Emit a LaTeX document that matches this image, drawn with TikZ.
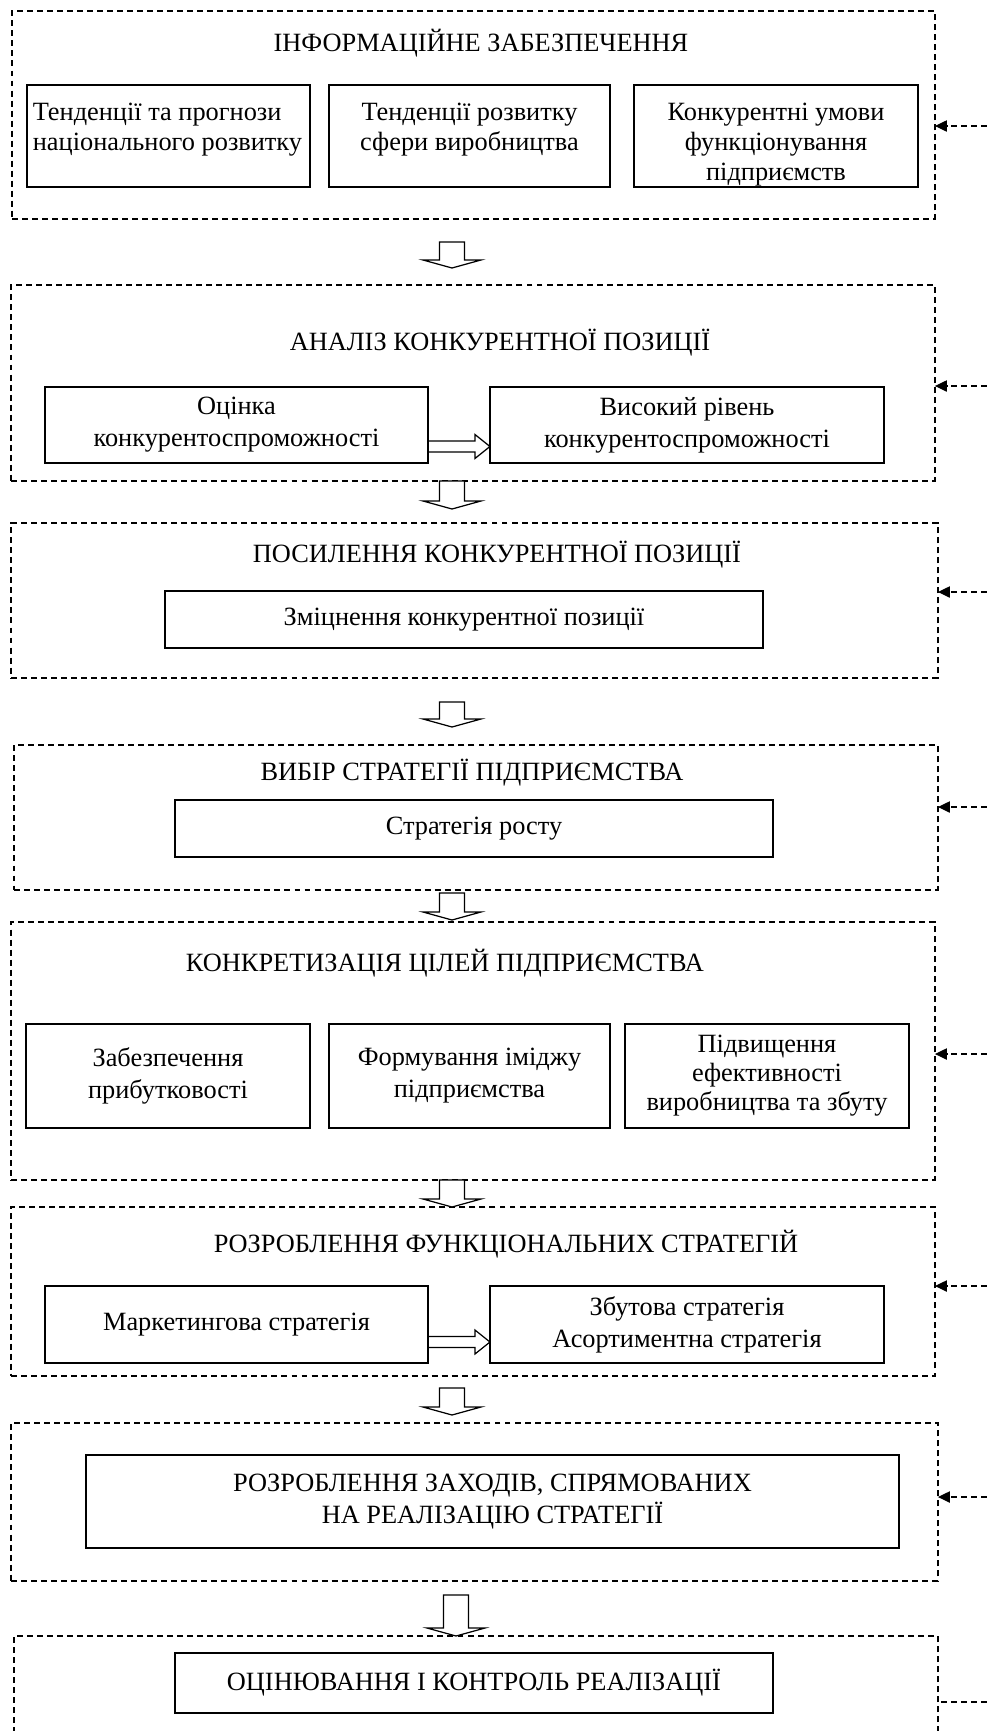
\documentclass[tikz,border=0pt]{standalone}
\usepackage{fontspec}
\setmainfont{Liberation Serif}
\usetikzlibrary{arrows.meta, calc}

\begin{document}
\begin{tikzpicture}[
  x=0.02cm, y=-0.02cm,
  stagebox/.style={draw, line width=0.7pt, dash pattern=on 3.4pt off 2.3pt,
                   inner sep=0pt, outer sep=0pt},
  title/.style={inner sep=0pt, font=\fontsize{15}{18.2}\selectfont},
  item/.style={draw, line width=0.8pt, inner sep=2pt, outer sep=0pt, align=center,
               font=\fontsize{15}{18.2}\selectfont},
  itemtext/.style={inner sep=0pt, anchor=north, align=center,
                   font=\fontsize{15}{17.1}\selectfont},
  fback/.style={line width=0.7pt, dash pattern=on 3.4pt off 2.3pt,
                -{Triangle[length=6.8pt, width=6.4pt]}},
  fbline/.style={line width=0.7pt, dash pattern=on 3.4pt off 2.3pt},
  hollow/.style={draw, line width=0.7pt, line join=miter},
  pics/downarrow/.style={code={
    \path[hollow, fill=white] (-12.5,0) -- (-12.5,#1-8) -- (-29,#1-8) -- (0,#1)
      -- (29,#1-8) -- (12.5,#1-8) -- (12.5,0) -- cycle;}},
  pics/rightarrow/.style={code={
    \path[hollow] (0,-5.5) -- (#1-15,-5.5) -- (#1-15,-12) -- (#1,0)
      -- (#1-15,12) -- (#1-15,5.5) -- (0,5.5);}}
]
  \useasboundingbox (0,0) rectangle (987,1731);
  \clip (0,0) rectangle (987,1731);

  %% Stages (dashed frames)
  \node[stagebox, minimum width=18.46cm, minimum height=4.16cm] (info)    at (473.5,115) {};
  \node[stagebox, minimum width=18.48cm, minimum height=3.92cm] (analiz)  at (473,383)   {};
  \node[stagebox, minimum width=18.54cm, minimum height=3.10cm] (posyl)   at (474.5,600.5) {};
  \node[stagebox, minimum width=18.48cm, minimum height=2.90cm] (vybir)   at (476,817.5) {};
  \node[stagebox, minimum width=18.48cm, minimum height=5.16cm] (tsili)   at (473,1051)  {};
  \node[stagebox, minimum width=18.48cm, minimum height=3.38cm] (funk)    at (473,1291.5) {};
  \node[stagebox, minimum width=18.54cm, minimum height=3.16cm] (zakhody) at (474.5,1502) {};
  \node[stagebox, minimum width=18.48cm, minimum height=2.48cm] (kontrol) at (476,1698)  {};

  %% Stage titles
  \node[title] (info-t)   at (481,43)   {ІНФОРМАЦІЙНЕ ЗАБЕЗПЕЧЕННЯ};
  \node[title] (analiz-t) at (500,343)  {АНАЛІЗ КОНКУРЕНТНОЇ ПОЗИЦІЇ};
  \node[title] (posyl-t)  at (497,555)  {ПОСИЛЕННЯ КОНКУРЕНТНОЇ ПОЗИЦІЇ};
  \node[title] (vybir-t)  at (472,773)  {ВИБІР СТРАТЕГІЇ ПІДПРИЄМСТВА};
  \node[title] (tsili-t)  at (445,963)  {КОНКРЕТИЗАЦІЯ ЦІЛЕЙ ПІДПРИЄМСТВА};
  \node[title] (funk-t)   at (506,1244) {РОЗРОБЛЕННЯ ФУНКЦІОНАЛЬНИХ СТРАТЕГІЙ};

  %% Inner boxes (first stage: text set from the top)
  \node[item, minimum width=5.66cm, minimum height=2.04cm] (trend) at (168.5,136) {};
  \node[item, minimum width=5.62cm, minimum height=2.04cm] (sfera) at (469.5,136) {};
  \node[item, minimum width=5.68cm, minimum height=2.04cm] (umovy) at (776,136) {};
  \node[itemtext, align=left] (trend-t) at ($(trend.north)+(-1,18)$)
    {Тенденції та прогнози\\національного розвитку};
  \node[itemtext] (sfera-t) at ($(sfera.north)+(0,18)$)
    {Тенденції розвитку\\сфери виробництва};
  \node[itemtext] (umovy-t) at ($(umovy.north)+(0,18)$)
    {Конкурентні умови\\функціонування\\підприємств};

  \node[item, minimum width=7.66cm, minimum height=1.52cm] (otsinka) at (236.5,425)
    {Оцінка\\конкурентоспроможності};
  \node[item, minimum width=7.88cm, minimum height=1.52cm] (riven) at (687,425)
    {Високий рівень\\конкурентоспроможності};

  \node[item, minimum width=11.96cm, minimum height=1.14cm] (zmitsn) at (464,619.5)
    {Зміцнення конкурентної позиції};
  \node[item, minimum width=11.96cm, minimum height=1.14cm] (rist) at (474,828.5)
    {Стратегія росту};

  \node[item, minimum width=5.68cm, minimum height=2.08cm] (prybut) at (168,1076)
    {Забезпечення\\прибутковості};
  \node[item, minimum width=5.62cm, minimum height=2.08cm] (imidzh) at (469.5,1076)
    {Формування іміджу\\підприємства};
  \node[item, minimum width=5.68cm, minimum height=2.08cm,
        font=\fontsize{15}{16.5}\selectfont] (efekt) at (767,1076)
    {Підвищення\\ефективності\\виробництва та збуту};

  \node[item, minimum width=7.66cm, minimum height=1.54cm] (market) at (236.5,1324.5)
    {Маркетингова стратегія};
  \node[item, minimum width=7.88cm, minimum height=1.54cm] (zbut) at (687,1324.5)
    {Збутова стратегія\\Асортиментна стратегія};

  \node[item, minimum width=16.26cm, minimum height=1.86cm] (zakhody-b) at (492.5,1501.5)
    {РОЗРОБЛЕННЯ ЗАХОДІВ, СПРЯМОВАНИХ\\НА РЕАЛІЗАЦІЮ СТРАТЕГІЇ};
  \node[item, minimum width=11.96cm, minimum height=1.2cm] (kontrol-b) at (474,1683)
    {ОЦІНЮВАННЯ І КОНТРОЛЬ РЕАЛІЗАЦІЇ};

  %% Double arrows inside stages
  \pic at ($(otsinka.east)+(0,21.5)$) {rightarrow=62};
  \pic at ($(market.east)+(0,17.5)$)  {rightarrow=62};

  %% Hollow arrows between stages
  \pic at (452,242)  {downarrow=26};
  \pic at (452,481)  {downarrow=28};
  \pic at (452,702)  {downarrow=25};
  \pic at (452,893)  {downarrow=27};
  \pic at (452,1180) {downarrow=27};
  \pic at (452,1388) {downarrow=27};
  \pic at (456,1595) {downarrow=41};

  %% Feedback from the right
  \coordinate (f1) at (987,126);
  \coordinate (f2) at (987,386);
  \coordinate (f3) at (987,592);
  \coordinate (f4) at (987,807);
  \coordinate (f5) at (987,1054);
  \coordinate (f6) at (987,1286);
  \coordinate (f7) at (987,1497);
  \coordinate (f8) at (987,1702);
  \draw[fback] (f1) -- (f1 -| info.east);
  \draw[fback] (f2) -- (f2 -| analiz.east);
  \draw[fback] (f3) -- (f3 -| posyl.east);
  \draw[fback] (f4) -- (f4 -| vybir.east);
  \draw[fback] (f5) -- (f5 -| tsili.east);
  \draw[fback] (f6) -- (f6 -| funk.east);
  \draw[fback] (f7) -- (f7 -| zakhody.east);
  \draw[fbline] (f8) -- (f8 -| kontrol.east);
\end{tikzpicture}
\end{document}
